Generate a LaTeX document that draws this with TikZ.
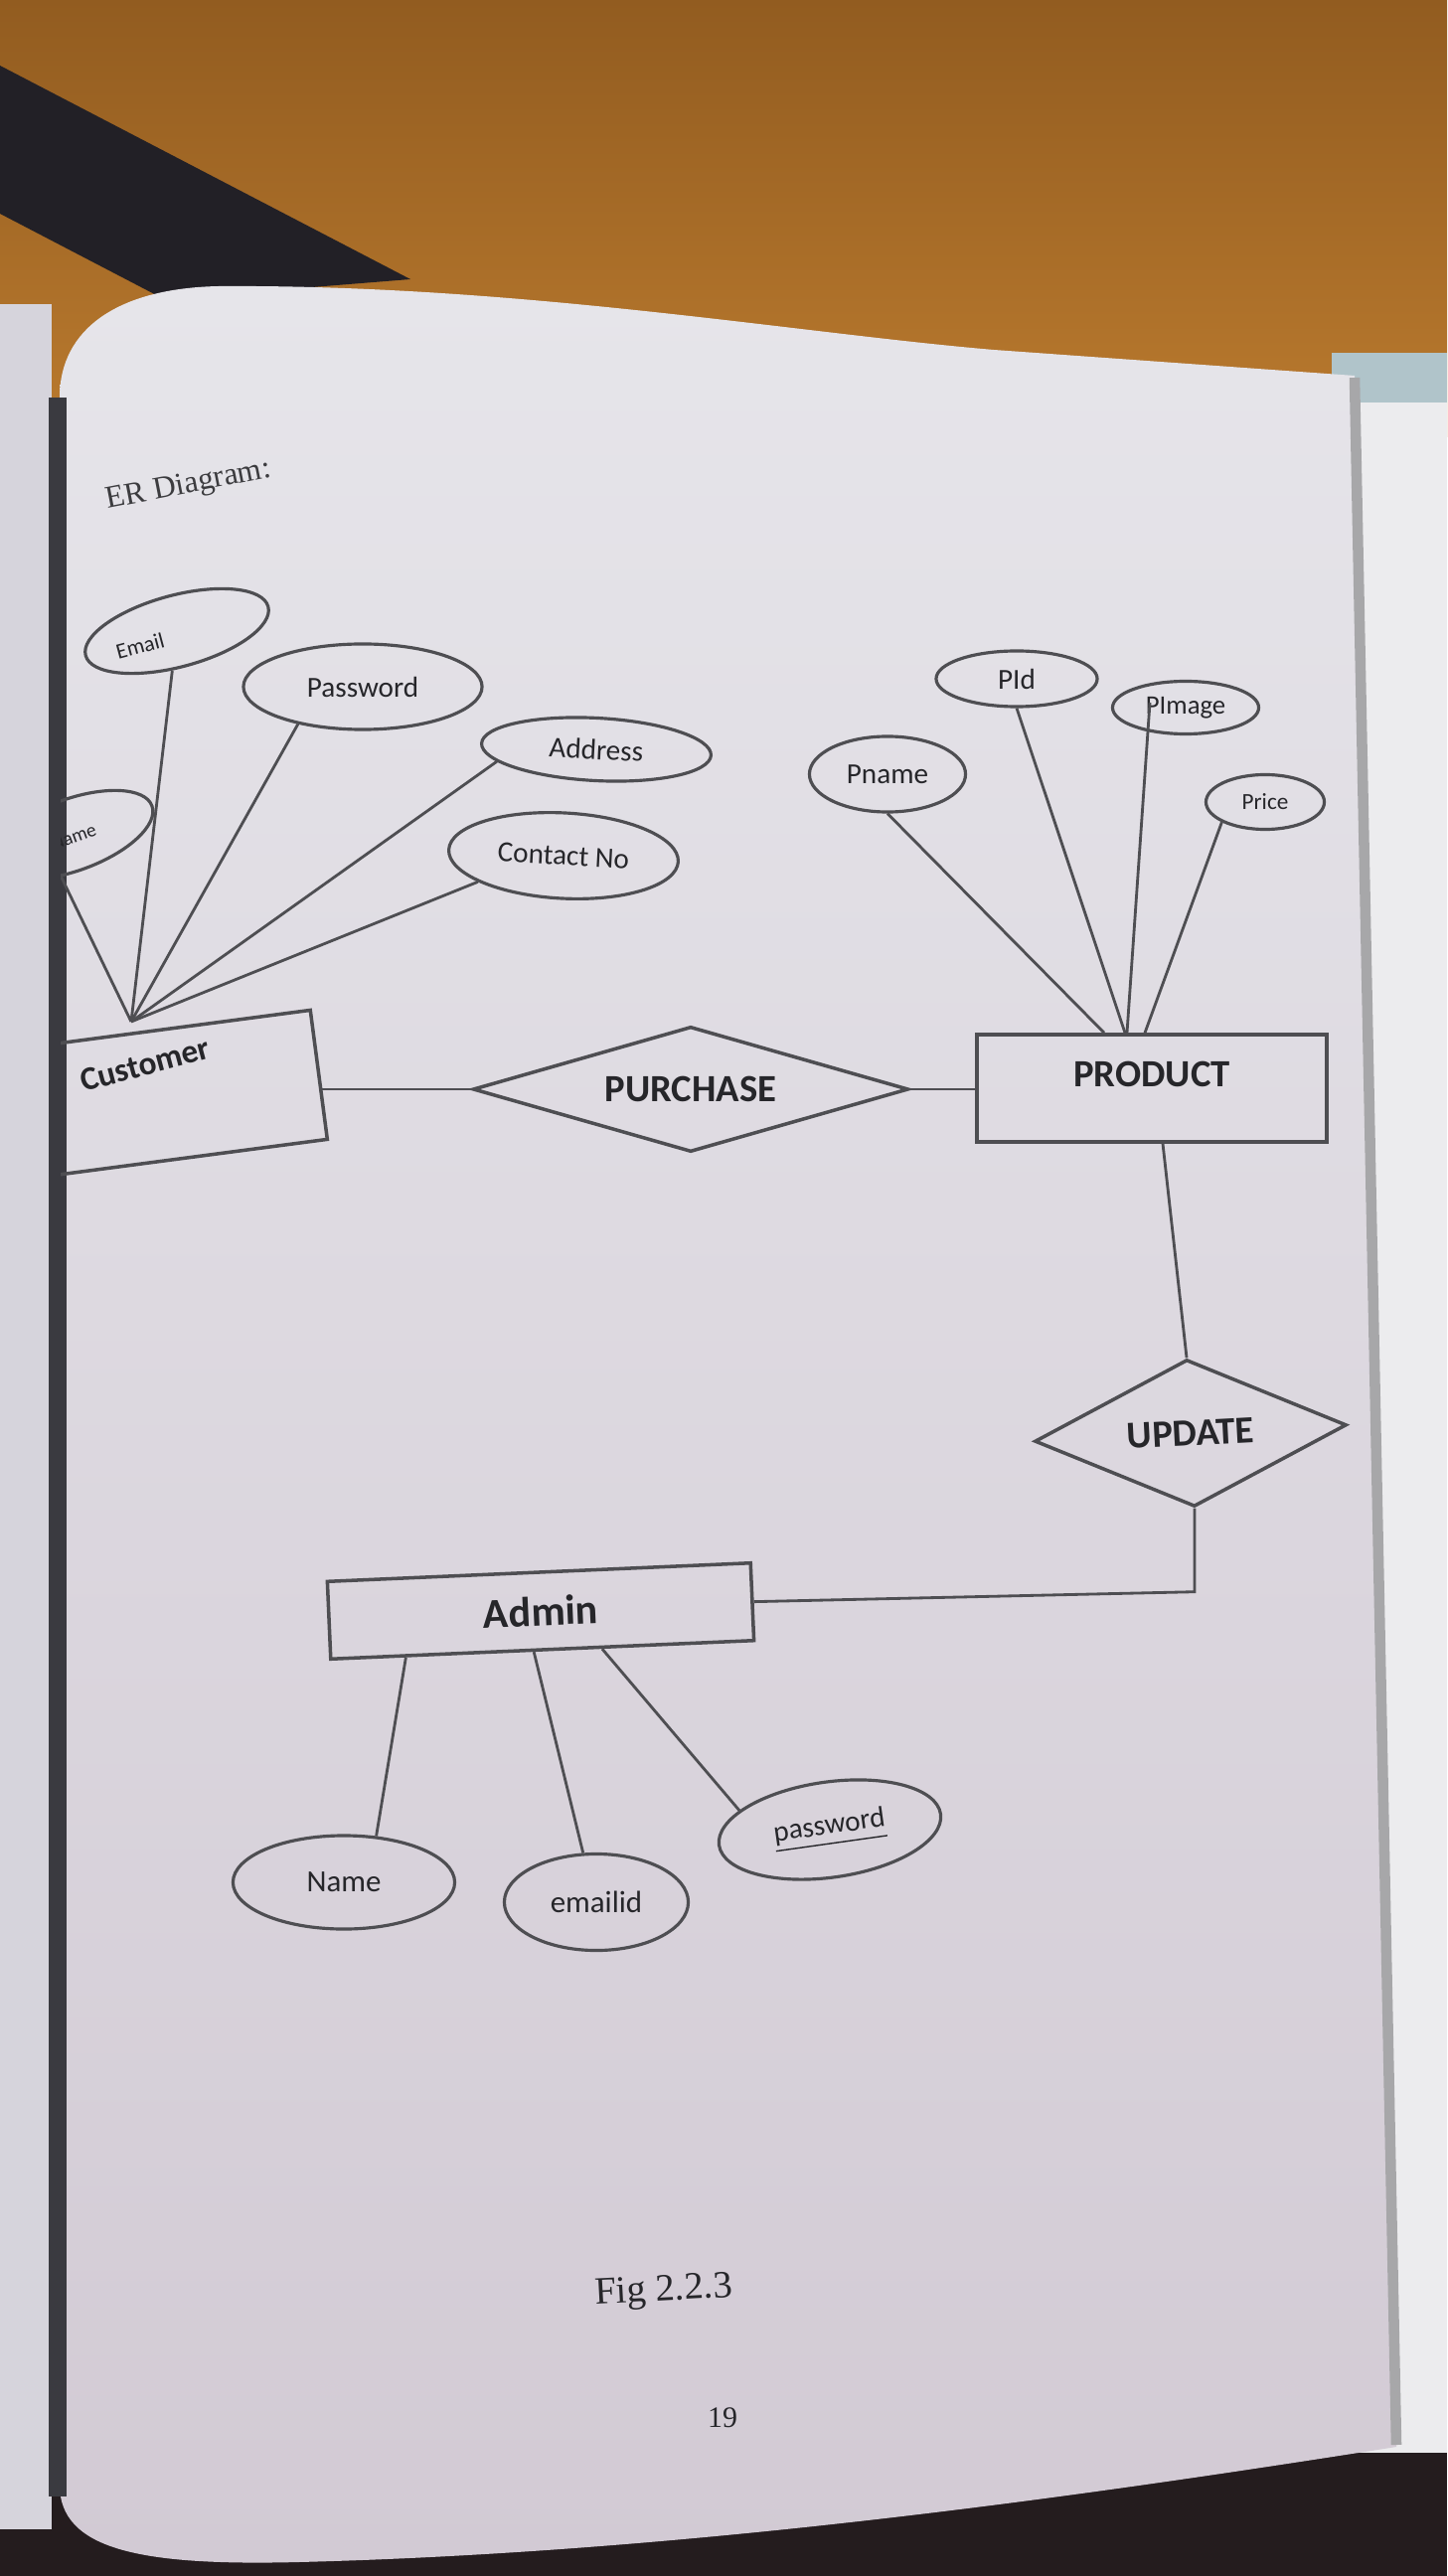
\documentclass[tikz,border=0pt]{standalone}
\usepackage{fontspec}
\setmainfont{Carlito}
\newfontfamily\pagefont{Liberation Serif}
\usepackage{tikz}
\usetikzlibrary{shapes.geometric,calc,positioning}
\definecolor{wood}{RGB}{186,122,46}
\definecolor{wooddark}{RGB}{146,92,32}
\definecolor{strap}{RGB}{34,32,38}
\definecolor{floor}{RGB}{36,28,30}
\definecolor{leftpage}{RGB}{214,212,220}
\definecolor{rightpage}{RGB}{236,236,238}
\definecolor{bluegray}{RGB}{176,196,202}
\definecolor{paper}{RGB}{230,229,234}
\definecolor{paperhi}{RGB}{236,234,239}
\definecolor{paperlow}{RGB}{210,202,212}
\definecolor{spine}{RGB}{58,58,64}
\definecolor{ink}{RGB}{78,78,82}
\definecolor{txt}{RGB}{38,38,42}

\begin{document}
\begin{tikzpicture}[x=0.01cm, y=-0.01cm, font=\fontsize{8.3}{10}\selectfont, text=txt]
  \tikzset{ent/.style={draw=ink, line width=1pt, rectangle, inner sep=0pt},
    rel/.style={draw=ink, line width=1pt, diamond, inner sep=1pt, font=\bfseries\fontsize{11}{13}\selectfont},
    att/.style={draw=ink, line width=0.9pt, ellipse, inner sep=0pt},
    etext/.style={font=\bfseries\fontsize{11}{13}\selectfont},
    ln/.style={draw=ink, line width=0.8pt}}
  \useasboundingbox (0,0) rectangle (1456,2592);
  % desk, strap and the facing pages round the printed page
  \fill[floor] (0,0) rectangle (1456,2592);
  \shade[top color=wooddark, bottom color=wood] (0,0) rectangle (1456,440);
  \fill[strap] (0,66) -- (413,281) -- (165,301) -- (0,215) -- cycle;
  \fill[leftpage] (0,306) rectangle (52,2545);
  \fill[bluegray] (1340,355) rectangle (1456,405);
  \fill[rightpage] (1340,405) rectangle (1456,2468);
  \shade[top color=paper, middle color=paperhi, bottom color=paperlow] (60,2500) -- (60,400)
    .. controls (60,330) and (120,290) .. (220,288) .. controls (520,286) and (800,335) .. (1000,352)
    -- (1363,378) -- (1405,2462) .. controls (1100,2510) and (700,2568) .. (300,2578)
    .. controls (140,2582) and (60,2565) .. (60,2500) -- cycle;
  \draw[line width=5pt, spine] (58,400) -- (58,2512);
  \draw[line width=3pt, ink!50] (1363,380) -- (1405,2460);
  \node[text=txt!90, rotate=11, font=\pagefont\fontsize{9}{11}\selectfont] (title) at (190,489) {ER Diagram:};
  \node[font=\pagefont\fontsize{11}{13}\selectfont, rotate=3] (caption) at (668,2306) {Fig 2.2.3};
  \node[font=\pagefont\fontsize{8.5}{10}\selectfont] (pageno) at (727,2433) {19};

  \begin{scope}
  \clip (61,0) rectangle (1456,2592);
  % entities and relationships
  \node[ent, rotate=7.5, minimum width=3cm, minimum height=1.31cm] (customer) at (172,1101) {};
  \node[rotate=15, font=\bfseries\fontsize{9.5}{11}\selectfont] (custname) at (146,1071) {Customer};
  \node[rel, aspect=3.5, minimum width=4.38cm, minimum height=1.26cm] (purchase) at (695,1096) {PURCHASE};
  \node[ent, minimum width=3.52cm, minimum height=1.08cm] (product) at (1159,1095) {};
  \node[etext] (prodname) at ([yshift=1.4mm]product.center) {PRODUCT};
  \node[rel, aspect=2.1, minimum width=3.14cm, minimum height=1.48cm, rotate=3] (update) at (1198,1442) {UPDATE};
  \node[ent, rotate=2.5, minimum width=4.26cm, minimum height=0.78cm, font=\bfseries\fontsize{12}{14}\selectfont] (admin) at (544,1621) {Admin};

  % customer attributes
  \node[att, rotate=20, minimum width=1.7cm, minimum height=0.72cm] (cname) at (73,840) {};
  \node[rotate=20, font=\fontsize{5.5}{6}\selectfont] (cnametxt) at (74,842) {Name};
  \node[att, rotate=15, minimum width=1.9cm, minimum height=0.72cm] (email) at (178,635) {};
  \node[rotate=15, font=\fontsize{6.3}{7}\selectfont] (emailtxt) at (141,650) {Email};
  \node[att, minimum width=2.4cm, minimum height=0.86cm] (cpass) at (365,691) {Password};
  \node[att, rotate=-3, minimum width=2.31cm, minimum height=0.63cm] (addr) at (600,754) {Address};
  \node[att, rotate=-3, minimum width=2.31cm, minimum height=0.86cm] (contact) at (567,861) {Contact No};
  \coordinate (custhub) at (132,1028);
  \draw[ln] (cname.235) -- (custhub); \draw[ln] (email) -- (custhub);
  \draw[ln] (cpass.210) -- (custhub); \draw[ln] (addr.190) -- (custhub);
  \draw[ln] (contact.200) -- (custhub);

  % product attributes
  \node[att, minimum width=1.57cm, minimum height=0.76cm] (pname) at (893,779) {Pname};
  \node[att, minimum width=1.62cm, minimum height=0.56cm] (pid) at (1023,683) {PId};
  \node[att, minimum width=1.47cm, minimum height=0.53cm, font=\fontsize{7.6}{9}\selectfont] (pimage) at (1193,712) {PImage};
  \node[att, minimum width=1.19cm, minimum height=0.55cm, font=\fontsize{6.6}{8}\selectfont] (price) at (1273,807) {Price};
  \draw[ln] (pname.south) -- ([xshift=-4.8mm]product.north);
  \draw[ln] (pid.south) -- ([xshift=-2.7mm]product.north);
  \draw[ln] ($(pimage.center)+(-36,-5)$) -- ([xshift=-2.5mm]product.north);
  \draw[ln] (price.205) -- ([xshift=-0.7mm]product.north);

  % admin attributes
  \node[att, minimum width=2.23cm, minimum height=0.94cm, font=\fontsize{8.8}{10}\selectfont] (aname) at (346,1894) {Name};
  \node[att, minimum width=1.85cm, minimum height=0.97cm, font=\fontsize{8.8}{10}\selectfont] (aemail) at (600,1914) {emailid};
  \node[att, rotate=8, minimum width=2.25cm, minimum height=0.96cm] (apass) at (835,1841) {\underline{password}};
  \draw[ln] (aname.55) -- ($(admin.south west)!0.18!(admin.south east)$);
  \draw[ln] (aemail.105) -- ($(admin.south west)!0.48!(admin.south east)$);
  \draw[ln] (apass.160) -- ($(admin.south west)!0.64!(admin.south east)$);

  % relationship lines
  \draw[ln] (purchase.west) -- (purchase.west -| customer.east);
  \draw[ln] (purchase.east) -- (purchase.east -| product.west);
  \draw[ln] ([xshift=1.1mm]product.south) -- (update.north);
  \draw[ln] (update.south) -- ++(0,84) -- (admin.east);
  \end{scope}
\end{tikzpicture}
\end{document}
